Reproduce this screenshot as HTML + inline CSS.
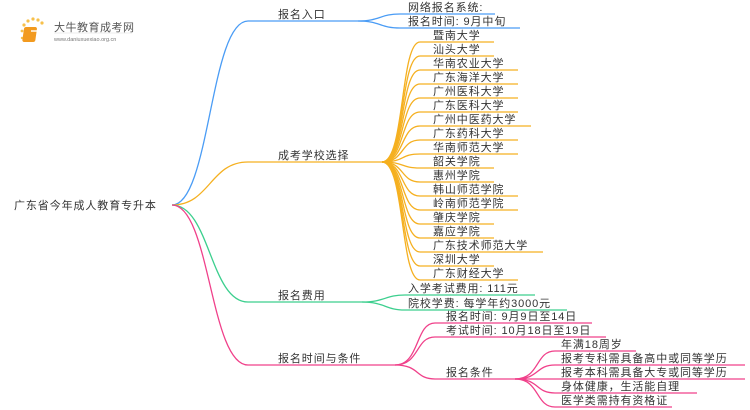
<!DOCTYPE html>
<html><head><meta charset="utf-8"><style>
html,body{margin:0;padding:0;background:#fff;width:750px;height:410px;overflow:hidden}
svg text{font-family:"Liberation Sans","Noto Sans CJK SC",sans-serif;font-size:11px;letter-spacing:0.9px;fill:#333}
</style></head><body>
<svg width="750" height="410" viewBox="0 0 750 410" xmlns="http://www.w3.org/2000/svg">
<g>
<circle cx="24" cy="25" r="1.6" fill="#f7c04a"/><circle cx="28" cy="21" r="1.6" fill="#f7c04a"/><circle cx="33" cy="19" r="1.6" fill="#f7c04a"/><circle cx="38" cy="20" r="1.6" fill="#f7c04a"/><circle cx="42" cy="23" r="1.6" fill="#f7c04a"/><circle cx="22" cy="31" r="1.4" fill="#f7c04a"/><circle cx="22" cy="38" r="1.2" fill="#f7c04a"/>
<rect x="28" y="27" width="13" height="15" rx="2" fill="#f29a1f" transform="skewX(-8)"/>
<rect x="31" y="30" width="7" height="2" fill="#fff" opacity="0.7"/>
<text x="54" y="31" style="font-size:11px;letter-spacing:0.5px;fill:#555">大牛教育成考网</text>
<text x="54" y="41" style="font-size:5.5px;letter-spacing:0;fill:#777">www.daniuxuexiao.org.cn</text>
<line x1="54" y1="33" x2="132" y2="33" stroke="#ddd" stroke-width="0.5"/>
</g>
<g fill="none" stroke-width="1.3">
<path d="M172 205 C210 205 210 21 248 21 H358" stroke="#4a9cf5"/>
<path d="M172 205 C210 205 210 162 248 162 H382" stroke="#f5b020"/>
<path d="M172 205 C210 205 210 302 248 302 H362" stroke="#3ccf8e"/>
<path d="M172 205 C210 205 210 365 248 365 H395" stroke="#f0408a"/>
<g stroke="#4a9cf5">
<path d="M358 21 C380 21 380 14 400 14 H495"/>
<path d="M358 21 C380 21 380 28 400 28 H520"/>
</g>
<g stroke="#f5b020">
<path d="M382 162 C405 162 400 42 420 42 H494"/>
<path d="M382 162 C405 162 400 56 420 56 H494"/>
<path d="M382 162 C405 162 400 70 420 70 H518"/>
<path d="M382 162 C405 162 400 84 420 84 H518"/>
<path d="M382 162 C405 162 400 98 420 98 H518"/>
<path d="M382 162 C405 162 400 112 420 112 H518"/>
<path d="M382 162 C405 162 400 126 420 126 H531"/>
<path d="M382 162 C405 162 400 140 420 140 H518"/>
<path d="M382 162 C405 162 400 154 420 154 H518"/>
<path d="M382 162 C405 162 400 168 420 168 H494"/>
<path d="M382 162 C405 162 400 182 420 182 H494"/>
<path d="M382 162 C405 162 400 196 420 196 H518"/>
<path d="M382 162 C405 162 400 210 420 210 H518"/>
<path d="M382 162 C405 162 400 224 420 224 H494"/>
<path d="M382 162 C405 162 400 238 420 238 H494"/>
<path d="M382 162 C405 162 400 252 420 252 H543"/>
<path d="M382 162 C405 162 400 266 420 266 H494"/>
<path d="M382 162 C405 162 400 280 420 280 H518"/>
</g>
<g stroke="#3ccf8e">
<path d="M362 302 C385 302 385 295 405 295 H535"/>
<path d="M362 302 C385 302 385 310 405 310 H567"/>
</g>
<g stroke="#f0408a">
<path d="M395 365 C420 365 415 323 435 323 H592"/>
<path d="M395 365 C420 365 415 337 435 337 H606"/>
<path d="M395 365 C420 365 415 379 435 379 H515"/>
<path d="M515 379 C540 379 535 351 555 351 H636"/>
<path d="M515 379 C540 379 535 365 555 365 H745"/>
<path d="M515 379 C540 379 535 379 555 379 H745"/>
<path d="M515 379 C540 379 535 393 555 393 H697"/>
<path d="M515 379 C540 379 535 407 555 407 H672"/>
</g>
</g>
<text x="14" y="209">广东省今年成人教育专升本</text>
<text x="278" y="18">报名入口</text>
<text x="278" y="159">成考学校选择</text>
<text x="278" y="299">报名费用</text>
<text x="278" y="362">报名时间与条件</text>
<text x="408" y="11">网络报名系统:</text>
<text x="408" y="25">报名时间: 9月中旬</text>
<g>
<text x="433" y="39">暨南大学</text>
<text x="433" y="53">汕头大学</text>
<text x="433" y="67">华南农业大学</text>
<text x="433" y="81">广东海洋大学</text>
<text x="433" y="95">广州医科大学</text>
<text x="433" y="109">广东医科大学</text>
<text x="433" y="123">广州中医药大学</text>
<text x="433" y="137">广东药科大学</text>
<text x="433" y="151">华南师范大学</text>
<text x="433" y="165">韶关学院</text>
<text x="433" y="179">惠州学院</text>
<text x="433" y="193">韩山师范学院</text>
<text x="433" y="207">岭南师范学院</text>
<text x="433" y="221">肇庆学院</text>
<text x="433" y="235">嘉应学院</text>
<text x="433" y="249">广东技术师范大学</text>
<text x="433" y="263">深圳大学</text>
<text x="433" y="277">广东财经大学</text>
</g>
<text x="408" y="292">入学考试费用: 111元</text>
<text x="408" y="307">院校学费: 每学年约3000元</text>
<text x="446" y="320">报名时间: 9月9日至14日</text>
<text x="446" y="334">考试时间: 10月18日至19日</text>
<text x="446" y="376">报名条件</text>
<text x="561" y="348">年满18周岁</text>
<text x="561" y="362">报考专科需具备高中或同等学历</text>
<text x="561" y="376">报考本科需具备大专或同等学历</text>
<text x="561" y="390">身体健康，生活能自理</text>
<text x="561" y="404">医学类需持有资格证</text>
</svg>
</body></html>
